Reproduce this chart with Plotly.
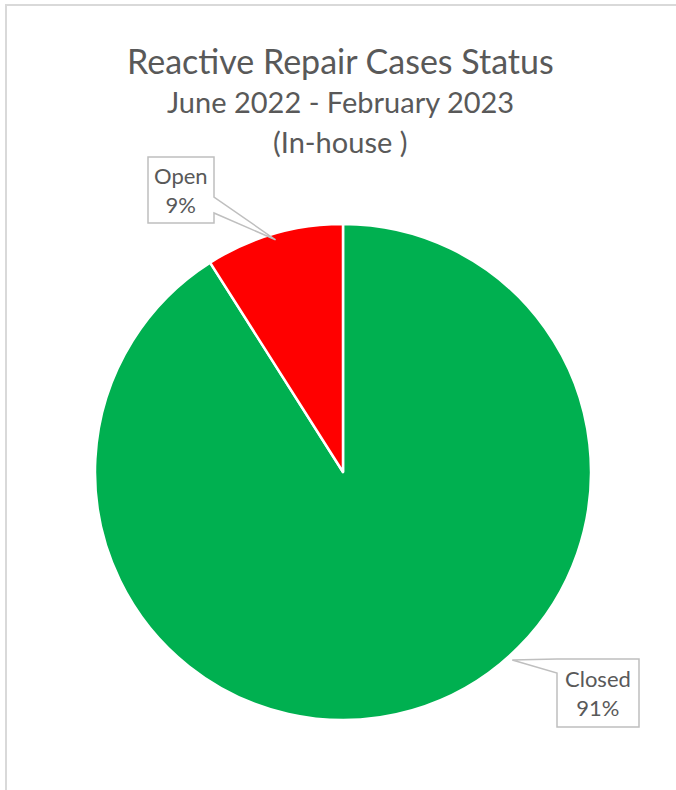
import math
import plotly.graph_objects as go

# ---- data ----
labels = ["Closed", "Open"]
values = [91, 9]
colors = ["#00B050", "#FF0000"]
title_lines = ["Reactive Repair Cases Status", "June 2022 - February 2023", "(In-house )"]

W, H = 676, 790
FONT = "Lato, 'Open Sans', sans-serif"
GRAY = "#595959"

# pie geometry (pixels)
cx, cy, R = 343, 472, 248


def px(x):
    return x / W


def py(y):
    return 1 - y / H


fig = go.Figure()
fig.add_trace(go.Pie(
    labels=labels, values=values, sort=False, direction="clockwise", rotation=0,
    marker=dict(colors=colors, line=dict(color="white", width=2.5)),
    textinfo="none", hoverinfo="label+percent", showlegend=False,
    domain=dict(x=[px(cx - R), px(cx + R)], y=[py(cy + R), py(cy - R)]),
))

shapes = []
annotations = []

# chart border (top and left visible)
shapes.append(dict(type="line", xref="paper", yref="paper", x0=px(5), x1=px(W), y0=py(5), y1=py(5),
                   line=dict(color="#D9D9D9", width=2), layer="above"))
shapes.append(dict(type="line", xref="paper", yref="paper", x0=px(6), x1=px(6), y0=py(4), y1=py(H),
                   line=dict(color="#D9D9D9", width=2), layer="above"))

# title
title_y = [61, 101, 141]
title_size = [34, 29, 29]
for t, yy, s in zip(title_lines, title_y, title_size):
    annotations.append(dict(text=t, x=px(340), y=py(yy), xref="paper", yref="paper",
                            showarrow=False, xanchor="center", yanchor="middle",
                            font=dict(family=FONT, size=s, color=GRAY)))

total = sum(values)
pcts = [round(v / total * 100) for v in values]

# Open callout: apex on mid-angle of the Open slice
start_open = values[0] / total * 360
mid_open = start_open + values[1] / total * 360 / 2  # degrees clockwise from top
ax_o = cx + 0.975 * R * math.sin(math.radians(mid_open))
ay_o = cy - 0.975 * R * math.cos(math.radians(mid_open))
bl, bt, br, bb = 148, 157, 214, 223
path_o = (f"M {px(bl)},{py(bt)} L {px(br)},{py(bt)} L {px(br)},{py(197)} L {px(ax_o)},{py(ay_o)} "
          f"L {px(br)},{py(213)} L {px(br)},{py(bb)} L {px(bl)},{py(bb)} Z")
shapes.append(dict(type="path", xref="paper", yref="paper", path=path_o,
                   fillcolor="white", line=dict(color="#BFBFBF", width=1.5), layer="above"))
annotations.append(dict(text=f"{labels[1]}<br>{pcts[1]}%", x=px((bl + br) / 2), y=py((bt + bb) / 2),
                        xref="paper", yref="paper", showarrow=False, xanchor="center", yanchor="middle",
                        font=dict(family=FONT, size=22, color=GRAY)))

# Closed callout
ang_c = 138
ax_c = cx + 1.02 * R * math.sin(math.radians(ang_c))
ay_c = cy - 1.02 * R * math.cos(math.radians(ang_c))
cl, ct, cr, cb = 557, 659, 639, 727
path_c = (f"M {px(cl)},{py(ct)} L {px(cr)},{py(ct)} L {px(cr)},{py(cb)} L {px(cl)},{py(cb)} "
          f"L {px(cl)},{py(673)} L {px(ax_c)},{py(ay_c)} Z")
shapes.append(dict(type="path", xref="paper", yref="paper", path=path_c,
                   fillcolor="white", line=dict(color="#BFBFBF", width=1.5), layer="above"))
annotations.append(dict(text=f"{labels[0]}<br>{pcts[0]}%", x=px((cl + cr) / 2), y=py((ct + cb) / 2),
                        xref="paper", yref="paper", showarrow=False, xanchor="center", yanchor="middle",
                        font=dict(family=FONT, size=22, color=GRAY)))

fig.update_layout(
    width=W, height=H, margin=dict(l=0, r=0, t=0, b=0),
    paper_bgcolor="white", plot_bgcolor="white",
    shapes=shapes, annotations=annotations,
)

fig.write_html("out.html", config={"displayModeBar": False},
               post_script="document.body.style.margin='0';document.body.style.overflow='hidden';")
